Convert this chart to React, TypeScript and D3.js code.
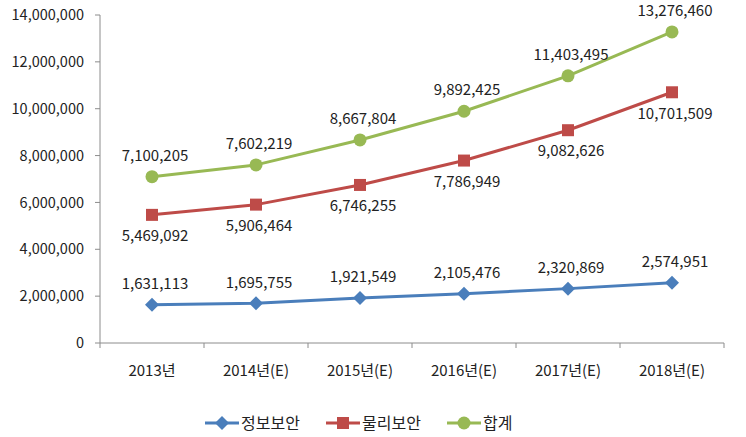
import * as d3 from "d3";

const years = ["2013년", "2014년(E)", "2015년(E)", "2016년(E)", "2017년(E)", "2018년(E)"];
const infoSecurity = [1631113, 1695755, 1921549, 2105476, 2320869, 2574951];
const physicalSecurity = [5469092, 5906464, 6746255, 7786949, 9082626, 10701509];
const total = [7100205, 7602219, 8667804, 9892425, 11403495, 13276460];
const yTicks = [0, 2000000, 4000000, 6000000, 8000000, 10000000, 12000000, 14000000];

const series = [
  { name: "정보보안", values: infoSecurity, color: "#4a7ebb", marker: "diamond", labelPos: "above" },
  { name: "물리보안", values: physicalSecurity, color: "#be4b48", marker: "square", labelPos: "below" },
  { name: "합계", values: total, color: "#98b954", marker: "circle", labelPos: "above" },
];

const W = 746;
const H = 437;
const margin = { top: 15, right: 22, bottom: 94, left: 100 };
const font = "'Noto Sans CJK KR', 'Noto Sans', sans-serif";
const fmt = d3.format(",");

function Marker({ type, x, y, color }: { type: string; x: number; y: number; color: string }) {
  if (type === "diamond") {
    return <path d={`M${x},${y - 7}L${x + 7},${y}L${x},${y + 7}L${x - 7},${y}Z`} fill={color} />;
  }
  if (type === "square") {
    return <rect x={x - 6} y={y - 6} width={12} height={12} fill={color} />;
  }
  return <circle cx={x} cy={y} r={6.5} fill={color} />;
}

export default function App() {
  const x = d3
    .scaleBand<string>()
    .domain(years)
    .range([margin.left, W - margin.right]);
  const y = d3
    .scaleLinear()
    .domain([0, 14000000])
    .range([H - margin.bottom, margin.top]);
  const cx = (d: string) => (x(d) ?? 0) + x.bandwidth() / 2;
  const line = d3
    .line<number>()
    .x((_, i) => cx(years[i]))
    .y((v) => y(v));

  const axisColor = "#8c8c8c";
  const bottom = y(0);
  const boundaries = years.map((d) => x(d) ?? 0).concat([W - margin.right]);

  const legendItems = [
    { x: 205, textX: 241 },
    { x: 326, textX: 362 },
    { x: 447, textX: 483 },
  ];
  const legendY = 423;

  return (
    <svg
      width={W}
      height={H}
      style={{ position: "absolute", left: 0, top: 0, background: "#fff" }}
      fontFamily={font}
    >
      {/* y axis */}
      <line x1={margin.left} x2={margin.left} y1={margin.top} y2={bottom} stroke={axisColor} />
      {yTicks.map((t) => (
        <g key={t}>
          <line x1={margin.left - 5} x2={margin.left} y1={y(t)} y2={y(t)} stroke={axisColor} />
          <text x={84} y={y(t)} dy="0.35em" textAnchor="end" fontSize={14.5} fill="#222">
            {fmt(t)}
          </text>
        </g>
      ))}
      {/* x axis */}
      <line x1={margin.left} x2={W - margin.right} y1={bottom} y2={bottom} stroke={axisColor} />
      {boundaries.map((b, i) => (
        <line key={i} x1={b} x2={b} y1={bottom} y2={bottom + 5} stroke={axisColor} />
      ))}
      {years.map((d) => (
        <text key={d} x={cx(d)} y={371} dy="0.35em" textAnchor="middle" fontSize={15} fill="#222">
          {d}
        </text>
      ))}

      {series.map((s) => (
        <g key={s.name}>
          <path d={line(s.values) ?? ""} fill="none" stroke={s.color} strokeWidth={3} />
          {s.values.map((v, i) => (
            <Marker key={i} type={s.marker} x={cx(years[i])} y={y(v)} color={s.color} />
          ))}
          {s.values.map((v, i) => (
            <text
              key={"l" + i}
              x={cx(years[i]) + 3}
              y={y(v) + (s.labelPos === "above" ? -21 : 21)}
              dy="0.35em"
              textAnchor="middle"
              fontSize={15}
              fill="#222"
            >
              {fmt(v)}
            </text>
          ))}
        </g>
      ))}

      {/* legend */}
      {series.map((s, i) => (
        <g key={"leg" + s.name}>
          <line
            x1={legendItems[i].x}
            x2={legendItems[i].x + 34}
            y1={legendY}
            y2={legendY}
            stroke={s.color}
            strokeWidth={3}
          />
          <Marker type={s.marker} x={legendItems[i].x + 17} y={legendY} color={s.color} />
          <text x={legendItems[i].textX} y={legendY} dy="0.35em" fontSize={16} fill="#222">
            {s.name}
          </text>
        </g>
      ))}
    </svg>
  );
}
